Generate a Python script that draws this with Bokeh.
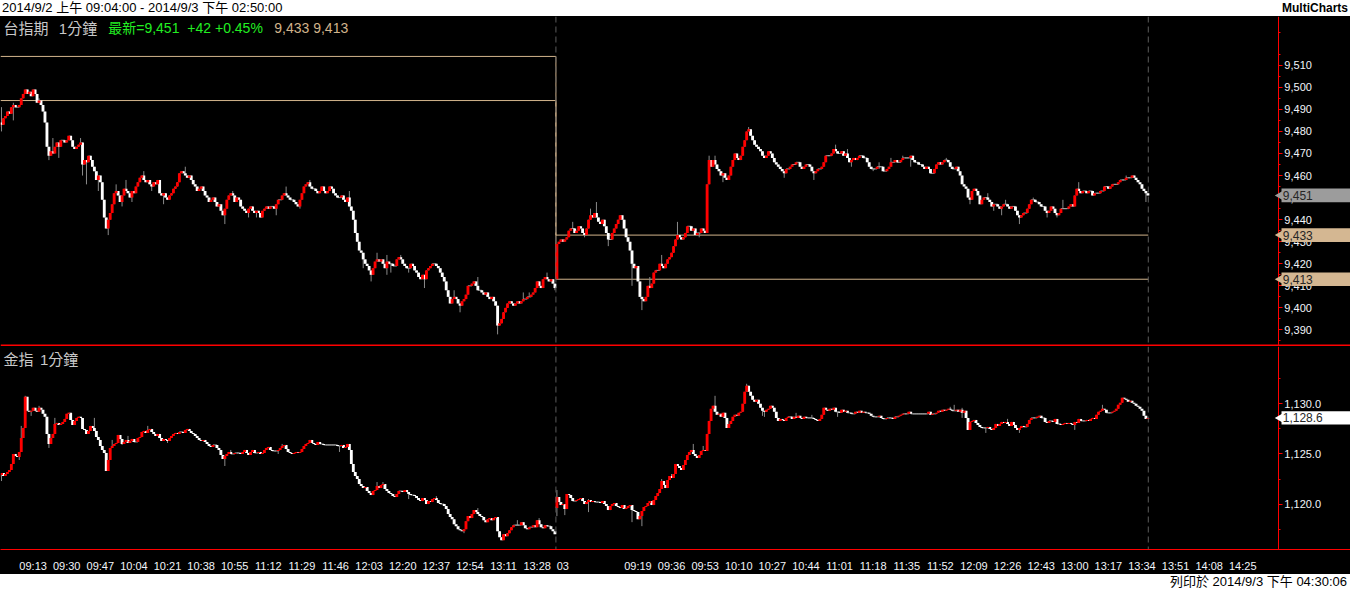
import math
from bokeh.plotting import figure
from bokeh.models import Range1d, FixedTicker, NumeralTickFormatter, Label, Span, Div, ColumnDataSource
from bokeh.layouts import column
from bokeh.embed import file_html
from bokeh.resources import INLINE
from bokeh.core.properties import value

# ---------------- data (1-minute closes) ----------------
# 台指期, 2014/9/2 09:04-13:45 and 2014/9/3 08:46-13:45
fut_day1 = [
    9484, 9483, 9486, 9487, 9489, 9488, 9491, 9492, 9491, 9491,
    9492, 9495, 9497, 9499, 9497, 9498, 9496, 9499, 9497, 9493,
    9494, 9492, 9489, 9484, 9473, 9469, 9471, 9470, 9473, 9475,
    9473, 9476, 9476, 9475, 9476, 9478, 9476, 9473, 9472, 9473,
    9474, 9475, 9465, 9467, 9466, 9469, 9467, 9464, 9462, 9458,
    9460, 9457, 9449, 9441, 9436, 9440, 9443, 9447, 9452, 9453,
    9451, 9448, 9451, 9454, 9453, 9452, 9450, 9453, 9452, 9455,
    9457, 9459, 9460, 9458, 9457, 9458, 9456, 9455, 9457, 9456,
    9458, 9452, 9451, 9452, 9450, 9449, 9451, 9452, 9454, 9455,
    9457, 9461, 9462, 9461, 9460, 9459, 9460, 9458, 9456, 9455,
    9453, 9454, 9455, 9453, 9451, 9450, 9448, 9449, 9450, 9448,
    9446, 9447, 9444, 9442, 9445, 9449, 9451, 9452, 9451, 9448,
    9450, 9449, 9446, 9445, 9444, 9443, 9445, 9446, 9444, 9443,
    9444, 9443, 9441, 9444, 9445, 9446, 9445, 9446, 9446, 9445,
    9447, 9449, 9449, 9451, 9452, 9451, 9450, 9449, 9449, 9448,
    9447, 9446, 9449, 9452, 9455, 9456, 9457, 9455, 9454, 9454,
    9453, 9452, 9453, 9455, 9453, 9452, 9453, 9455, 9454, 9452,
    9451, 9450, 9450, 9451, 9449, 9448, 9450, 9446, 9444, 9440,
    9434, 9430, 9426, 9425, 9422, 9420, 9419, 9417, 9415, 9418,
    9421, 9422, 9421, 9422, 9420, 9418, 9421, 9420, 9420, 9419,
    9419, 9422, 9423, 9422, 9420, 9419, 9418, 9418, 9420, 9419,
    9417, 9416, 9414, 9413, 9415, 9413, 9417, 9418, 9419, 9420,
    9420, 9419, 9418, 9416, 9414, 9412, 9408, 9405, 9402, 9404,
    9405, 9404, 9402, 9401, 9403, 9404, 9406, 9410, 9410, 9411,
    9412, 9410, 9408, 9408, 9407, 9406, 9407, 9405, 9404, 9405,
    9403, 9401, 9392, 9393, 9395, 9398, 9400, 9402, 9403, 9402,
    9401, 9402, 9403, 9402, 9403, 9404, 9404, 9405, 9405, 9406,
    9407, 9409, 9412, 9410, 9409, 9413, 9414, 9413, 9412, 9413,
    9411, 9409,
]
fut_day2 = [
    9429, 9430, 9431, 9430, 9431, 9432, 9435, 9436, 9436, 9434,
    9435, 9437, 9436, 9434, 9433, 9436, 9440, 9442, 9441, 9443,
    9441, 9439, 9438, 9440, 9437, 9434, 9431, 9431, 9434, 9436,
    9438, 9440, 9442, 9440, 9436, 9432, 9430, 9426, 9420, 9418,
    9419, 9412, 9405, 9404, 9403, 9405, 9410, 9409, 9411, 9416,
    9417, 9417, 9420, 9419, 9418, 9420, 9422, 9423, 9425, 9428,
    9431, 9433, 9432, 9431, 9432, 9434, 9437, 9437, 9435, 9436,
    9433, 9434, 9434, 9436, 9435, 9434, 9456, 9467, 9464, 9467,
    9465, 9463, 9462, 9460, 9461, 9459, 9458, 9460, 9464, 9467,
    9470, 9468, 9467, 9469, 9473, 9476, 9480, 9481, 9478, 9476,
    9474, 9473, 9472, 9471, 9469, 9468, 9469, 9471, 9470, 9468,
    9466, 9465, 9464, 9463, 9462, 9461, 9463, 9463, 9464, 9465,
    9465, 9466, 9466, 9464, 9463, 9464, 9465, 9465, 9464, 9462,
    9461, 9462, 9463, 9463, 9464, 9466, 9469, 9469, 9469, 9470,
    9472, 9471, 9470, 9470, 9471, 9469, 9470, 9468, 9466, 9467,
    9468, 9467, 9468, 9469, 9469, 9468, 9468, 9466, 9464, 9463,
    9463, 9463, 9464, 9464, 9464, 9462, 9462, 9463, 9464, 9466,
    9466, 9467, 9466, 9466, 9467, 9468, 9468, 9468, 9468, 9469,
    9467, 9466, 9466, 9465, 9465, 9464, 9463, 9464, 9463, 9461,
    9461, 9463, 9465, 9466, 9465, 9466, 9467, 9467, 9466, 9464,
    9463, 9463, 9464, 9462, 9460, 9456, 9455, 9454, 9450, 9449,
    9453, 9454, 9453, 9451, 9447, 9449, 9450, 9450, 9449, 9448,
    9446, 9447, 9447, 9446, 9445, 9446, 9447, 9447, 9446, 9445,
    9446, 9446, 9444, 9442, 9441, 9442, 9443, 9443, 9445, 9447,
    9449, 9449, 9448, 9448, 9447, 9446, 9446, 9444, 9443, 9444,
    9446, 9445, 9443, 9442, 9443, 9445, 9445, 9445, 9445, 9446,
    9447, 9446, 9451, 9454, 9453, 9452, 9453, 9453, 9452, 9453,
    9453, 9451, 9452, 9452, 9452, 9453, 9453, 9455, 9455, 9454,
    9455, 9456, 9456, 9456, 9457, 9458, 9458, 9458, 9459, 9459,
    9459, 9460, 9459, 9458, 9457, 9456, 9454, 9453, 9452, 9451,
]
fut_session_open = [9482, 9413]
# visible wicks: bar number, high, low (None = no wick on that side)
fut_wick_bar = [1, 7, 13, 20, 25, 27, 30, 41, 42, 44, 46, 50, 55, 59, 62, 64, 67, 73, 77, 83,
                94, 114, 118, 126, 130, 140, 145, 152, 157, 177, 184, 188, 191, 196, 198, 203,
                207, 215, 230, 233, 242, 252, 265, 268, 277, 281, 290, 296, 299, 302, 308, 315,
                320, 325, 329, 335, 343, 354, 359, 362, 366, 379, 397, 412, 423, 429, 431, 442,
                445, 451, 457, 461, 479, 491, 500, 503, 507, 509, 516, 523, 530, 535, 538, 546,
                570, 580]
fut_wick_hi = [9491, 9493, 9499, 9495, None, 9477, None, 9477, None, None, 9469, None, None, 9456,
               None, 9458, None, 9462, None, None, 9464, None, 9453, None, None, None, 9455, None,
               9458, 9453, None, None, 9425, 9424, None, 9424, None, None, 9408, None, 9414, None,
               9407, 9407, 9416, None, 9439, None, 9445, 9448, None, 9442, None, None, 9414, 9424,
               9439, None, 9469, 9469, None, 9482, None, None, 9474, 9472, None, None, 9466, 9468,
               9469, 9469, 9468, None, 9452, None, None, 9449, None, 9450, None, None, 9449, 9457,
               9460, None]
fut_wick_lo = [9480, 9485, None, None, 9467, None, 9468, None, 9460, 9456, None, 9453, 9433, None,
               9446, None, 9448, None, 9453, 9447, None, 9438, None, 9441, 9441, 9442, None, 9445,
               None, None, 9418, 9412, None, 9415, 9416, None, 9416, 9409, None, 9398, None, 9388,
               None, None, None, 9408, None, 9432, None, None, 9428, None, 9410, 9399, None, None,
               None, 9432, None, None, 9457, None, 9459, 9458, None, None, 9464, 9462, 9463, None,
               None, 9464, None, 9447, None, 9444, 9442, None, 9438, None, 9441, 9441, None, None,
               None, 9448]

# 金指
idx_day1 = [
    1122.9, 1123.1, 1122.8, 1123.0, 1123.2, 1123.4, 1124.0, 1125.0, 1124.8, 1124.7,
    1125.2, 1126.6, 1127.6, 1130.7, 1129.3, 1129.2, 1129.3, 1129.6, 1129.3, 1129.2,
    1129.6, 1129.4, 1129.0, 1128.7, 1127.0, 1126.0, 1126.6, 1127.0, 1128.0, 1128.1,
    1127.9, 1128.0, 1128.2, 1128.5, 1129.0, 1129.1, 1128.4, 1127.9, 1128.3, 1128.6,
    1128.7, 1128.6, 1127.5, 1127.4, 1127.0, 1127.3, 1127.8, 1127.6, 1127.3, 1126.7,
    1126.4, 1125.8, 1125.4, 1125.1, 1123.3, 1124.4, 1125.6, 1125.8, 1126.0, 1126.1,
    1126.9, 1126.5, 1126.0, 1126.2, 1126.4, 1126.1, 1126.3, 1126.5, 1126.2, 1126.2,
    1126.6, 1126.7, 1127.2, 1127.3, 1127.1, 1127.4, 1127.5, 1127.2, 1127.0, 1126.8,
    1127.0, 1126.6, 1126.3, 1126.5, 1126.4, 1126.3, 1126.6, 1126.8, 1127.0, 1127.1,
    1127.0, 1127.2, 1127.2, 1127.1, 1127.4, 1127.5, 1127.3, 1127.1, 1127.0, 1126.8,
    1126.6, 1126.4, 1126.3, 1126.4, 1126.2, 1126.0, 1125.8, 1125.7, 1125.9, 1125.9,
    1125.6, 1125.4, 1124.9, 1124.5, 1124.8, 1125.0, 1125.2, 1125.0, 1125.0, 1125.1,
    1125.1, 1125.1, 1125.0, 1125.2, 1125.4, 1125.1, 1124.9, 1125.2, 1125.4, 1125.1,
    1125.1, 1125.2, 1125.0, 1125.1, 1125.4, 1125.6, 1125.7, 1125.4, 1125.3, 1125.3,
    1125.3, 1125.4, 1125.6, 1125.8, 1125.9, 1125.5, 1125.2, 1125.1, 1125.0, 1125.1,
    1125.2, 1125.1, 1125.2, 1125.5, 1125.8, 1126.0, 1126.1, 1126.4, 1126.1, 1126.0,
    1125.9, 1126.2, 1126.0, 1126.0, 1125.9, 1125.9, 1125.9, 1125.9, 1125.9, 1125.9,
    1125.9, 1125.8, 1125.8, 1125.9, 1125.6, 1125.7, 1126.0, 1125.4, 1124.0, 1123.2,
    1122.8, 1122.5, 1122.0, 1121.8, 1121.6, 1121.7, 1121.3, 1121.1, 1120.9, 1121.3,
    1121.4, 1121.8, 1121.6, 1121.9, 1122.0, 1121.5, 1121.3, 1121.1, 1121.0, 1120.8,
    1120.7, 1121.0, 1121.3, 1121.3, 1121.2, 1121.4, 1121.2, 1121.0, 1120.9, 1120.9,
    1120.8, 1120.6, 1120.4, 1120.3, 1120.6, 1120.4, 1120.0, 1120.3, 1120.2, 1120.5,
    1120.6, 1120.4, 1120.1, 1120.0, 1120.0, 1119.8, 1119.5, 1119.0, 1118.7, 1118.5,
    1118.0, 1117.8, 1117.5, 1117.4, 1117.3, 1117.5, 1118.3, 1118.8, 1118.6, 1119.0,
    1119.4, 1119.2, 1119.0, 1118.8, 1118.7, 1118.4, 1118.2, 1118.5, 1118.6, 1118.4,
    1118.6, 1118.7, 1117.3, 1116.7, 1116.4, 1117.0, 1116.8, 1117.1, 1117.4, 1117.7,
    1117.9, 1117.9, 1117.9, 1117.9, 1118.2, 1117.9, 1117.6, 1117.5, 1117.7, 1117.7,
    1117.9, 1117.7, 1118.4, 1118.0, 1117.7, 1117.6, 1117.9, 1117.8, 1117.8, 1117.5,
    1117.3, 1117.0,
]
idx_day2 = [
    1120.7, 1120.2, 1119.9, 1120.0, 1119.5, 1121.0, 1120.9, 1120.6, 1120.3, 1120.3,
    1120.4, 1120.5, 1120.6, 1120.3, 1120.0, 1120.2, 1120.4, 1120.2, 1120.3, 1120.2,
    1120.2, 1120.2, 1120.1, 1120.3, 1120.0, 1119.8, 1119.4, 1119.8, 1120.0, 1120.1,
    1119.8, 1119.7, 1119.6, 1119.9, 1119.5, 1119.6, 1119.8, 1119.9, 1119.4, 1119.3,
    1119.2, 1118.5, 1118.8, 1119.3, 1119.7, 1119.8, 1120.1, 1120.3, 1119.9, 1120.4,
    1120.8, 1121.1, 1121.5, 1122.3, 1121.9, 1121.6, 1122.4, 1122.8, 1122.6, 1123.0,
    1124.0, 1123.8, 1123.6, 1123.4, 1123.9, 1124.4, 1124.9, 1125.2, 1125.4, 1125.0,
    1124.8, 1124.6, 1124.9, 1125.3, 1125.4, 1125.3, 1127.0, 1128.3, 1129.5, 1129.8,
    1129.2, 1128.9, 1129.0, 1128.7, 1129.1, 1128.6, 1127.6, 1128.0, 1128.3, 1128.7,
    1128.9, 1128.8, 1129.1, 1129.2, 1130.0, 1131.2, 1131.8, 1131.2, 1130.8, 1130.4,
    1130.2, 1130.4, 1130.0, 1129.6, 1129.3, 1129.2, 1129.4, 1129.5, 1129.8, 1129.6,
    1129.2, 1128.6, 1128.3, 1128.5, 1128.4, 1128.3, 1128.6, 1128.7, 1128.7, 1128.5,
    1128.7, 1128.6, 1128.8, 1128.6, 1128.5, 1128.7, 1128.6, 1128.6, 1128.6, 1128.6,
    1128.5, 1128.4, 1128.3, 1128.5, 1128.9, 1129.6, 1129.4, 1129.3, 1129.5, 1129.4,
    1129.6, 1129.2, 1129.2, 1129.1, 1129.4, 1129.2, 1129.3, 1129.1, 1129.1, 1129.0,
    1129.0, 1129.2, 1129.1, 1129.3, 1129.1, 1129.2, 1129.1, 1129.1, 1129.0, 1128.8,
    1128.7, 1128.7, 1128.7, 1128.8, 1128.6, 1128.5, 1128.5, 1128.6, 1128.6, 1128.6,
    1128.5, 1128.7, 1128.7, 1128.8, 1128.9, 1129.0, 1129.0, 1129.0, 1129.2, 1129.0,
    1129.0, 1129.0, 1129.0, 1129.0, 1129.0, 1129.0, 1129.0, 1129.0, 1129.2, 1128.9,
    1129.0, 1129.0, 1129.1, 1129.3, 1129.2, 1129.4, 1129.3, 1129.4, 1129.5, 1129.4,
    1129.3, 1129.3, 1129.4, 1129.2, 1129.4, 1129.1, 1129.3, 1128.6, 1127.4, 1128.2,
    1128.3, 1128.4, 1128.1, 1127.9, 1127.7, 1127.6, 1127.6, 1127.6, 1127.7, 1127.5,
    1127.4, 1127.6, 1128.0, 1127.8, 1128.0, 1128.2, 1128.1, 1128.2, 1128.0, 1127.8,
    1128.2, 1127.9, 1127.6, 1127.4, 1127.6, 1127.8, 1127.7, 1127.7, 1128.0, 1128.4,
    1128.6, 1128.6, 1128.6, 1128.7, 1128.8, 1128.6, 1128.6, 1128.2, 1128.1, 1128.3,
    1128.3, 1128.2, 1128.5, 1128.0, 1128.0, 1127.9, 1128.0, 1128.1, 1128.0, 1128.1,
    1128.0, 1127.9, 1128.2, 1128.1, 1128.5, 1128.3, 1128.3, 1128.3, 1128.4, 1128.3,
    1128.5, 1128.6, 1128.5, 1128.9, 1129.2, 1129.3, 1129.5, 1129.4, 1129.1, 1129.1,
    1129.1, 1129.2, 1129.3, 1129.5, 1129.9, 1130.1, 1130.6, 1130.5, 1130.4, 1130.2,
    1130.3, 1130.1, 1130.0, 1129.8, 1129.7, 1129.5, 1129.3, 1128.8, 1128.5, 1128.6,
]
idx_session_open = [1122.7, 1119.6]
idx_wick_bar = [1, 10, 11, 13, 16, 20, 25, 28, 48, 57, 62, 65, 75, 85, 114, 117, 141, 143, 172,
                191, 194, 207, 221, 235, 240, 242, 262, 273, 282, 286, 298, 320, 325, 335, 340,
                351, 356, 362, 378, 386, 387, 403, 411, 424, 481, 483, 487, 499, 510, 516, 544, 558]
idx_wick_hi = [None, None, 1127.8, 1130.8, None, 1129.8, None, 1128.6, 1128.6, 1126.4, None, 1126.8,
               1127.8, None, None, 1125.4, None, 1126.0, None, 1122.2, 1122.2, None, 1120.8, None,
               1119.4, 1119.6, 1118.4, 1118.6, 1121.4, None, 1120.5, None, None, 1122.5, 1123.0,
               1126.0, 1125.8, 1130.8, 1132.0, None, None, 1129.1, 1128.9, None, 1129.7, 1129.9,
               1129.6, None, 1128.5, None, None, 1129.9]
idx_wick_lo = [1122.3, 1124.4, None, None, 1128.8, None, 1125.6, None, None, None, 1125.9, None,
               None, 1126.1, 1123.8, None, 1125.0, None, 1125.2, None, None, 1120.5, None, 1117.1,
               None, None, None, None, 1118.8, 1118.9, 1119.2, 1118.2, 1117.8, None, None,
               None, None, None, None, 1128.8, 1128.7, None, None, 1128.7, None, None,
               1128.6, 1127.1, None, 1127.1, 1127.4, None]

# reference levels (per session) drawn as step lines
level_hi = [9514, 9413]
level_lo = [9494, 9433]

# axis ticks / labels
fut_ticks = [9390, 9400, 9410, 9420, 9430, 9440, 9450, 9460, 9470, 9480, 9490, 9500, 9510]
fut_minor = [9385, 9395, 9405, 9415, 9425, 9435, 9445, 9455, 9465, 9475, 9485, 9495, 9505, 9515, 9525]
idx_ticks = [1120.0, 1125.0, 1130.0]
idx_minor = [1117.5, 1122.5, 1127.5, 1132.5]
time_labels = ["09:13", "09:30", "09:47", "10:04", "10:21", "10:38", "10:55", "11:12", "11:29",
               "11:46", "12:03", "12:20", "12:37", "12:54", "13:11", "13:28", "03", "",
               "09:19", "09:36", "09:53", "10:10", "10:27", "10:44", "11:01", "11:18", "11:35",
               "11:52", "12:09", "12:26", "12:43", "13:00", "13:17", "13:34", "13:51", "14:08", "14:25"]
TICK_EVERY = 17
FIRST_TICK_BAR = 9

# ---------------- layout constants ----------------
W = 1350
FONT = "Liberation Sans, Noto Sans CJK TC"
AX_TXT = "#f2f5fa"
N1 = len(fut_day1)
N = N1 + len(fut_day2)
AXIS_AT = 647          # bar-slot where the price scale sits
xr = Range1d(0.5, 683.5)
TOP_LO, TOP_HI = 9382.5, 9532.1
BOT_LO, BOT_HI = 1115.47, 1135.72


def build(day1, day2, opens, wb, wh, wl):
    close = day1 + day2
    op = [opens[0]] + day1[:-1] + [opens[1]] + day2[:-1]
    hi = [max(a, b) for a, b in zip(op, close)]
    lo = [min(a, b) for a, b in zip(op, close)]
    for b, h, l in zip(wb, wh, wl):
        if h is not None:
            hi[b] = max(hi[b], h)
        if l is not None:
            lo[b] = min(lo[b], l)
    return list(range(len(close))), op, close, hi, lo


def draw_candles(p, x, o, c, h, l):
    p.segment(x0=x, y0=l, x1=x, y1=h, line_color="#8a8a8a", line_width=1)
    up = dict(x=[], top=[], bottom=[])
    dn = dict(x=[], top=[], bottom=[])
    fl = dict(x=[], y=[])
    for xi, oi, ci in zip(x, o, c):
        if abs(ci - oi) < 1e-6:
            fl["x"].append(xi); fl["y"].append(ci)
        elif ci > oi:
            up["x"].append(xi); up["top"].append(ci); up["bottom"].append(oi)
        else:
            dn["x"].append(xi); dn["top"].append(oi); dn["bottom"].append(ci)
    p.scatter(x="x", y="y", source=ColumnDataSource(fl), marker="dash", size=4,
              line_color="#a0a0a0", line_width=1)
    p.vbar(x="x", width=1.45, top="top", bottom="bottom", source=ColumnDataSource(dn),
           fill_color="#ffffff", line_color=None)
    p.vbar(x="x", width=1.45, top="top", bottom="bottom", source=ColumnDataSource(up),
           fill_color="#ff0000", line_color=None)


def style_yaxis(p, ticks, minor, fmt):
    ax = p.yaxis[0]
    ax.fixed_location = AXIS_AT
    ax.ticker = FixedTicker(ticks=ticks, minor_ticks=minor)
    ax.formatter = NumeralTickFormatter(format=fmt)
    ax.axis_line_color = "#ff0000"
    ax.major_tick_line_color = "#ff0000"
    ax.minor_tick_line_color = "#ff0000"
    ax.major_tick_in = 0
    ax.major_tick_out = 4
    ax.minor_tick_in = 0
    ax.minor_tick_out = 2
    ax.major_label_standoff = 2
    ax.major_label_text_color = AX_TXT
    ax.major_label_text_font = FONT
    ax.major_label_text_font_size = "11px"


def price_marker(p, y, half_h, txt, bg):
    rs = [
        p.quad(left=[AXIS_AT + 1.6], right=[683.5], top=[y + half_h], bottom=[y - half_h],
               fill_color=bg, line_color=None),
        p.scatter(x=[AXIS_AT + 1.4], y=[y], marker="triangle", angle=math.pi / 2, size=11,
                  fill_color=bg, line_color=None),
        p.text(x=[AXIS_AT + 2.2], y=[y], text=[txt], text_baseline="middle", text_align="left",
               text_color="#262626", text_font=value(FONT), text_font_size="12px"),
    ]
    for r in rs:
        r.level = "overlay"


common = dict(width=W, x_range=xr, y_axis_location="right", output_backend="svg",
              toolbar_location=None, background_fill_color="black", border_fill_color="black",
              min_border_left=0, min_border_right=0, min_border_top=0,
              outline_line_color=None)

# ---------------- top panel ----------------
top = figure(height=330, y_range=Range1d(TOP_LO, TOP_HI), x_axis_type=None,
             min_border_bottom=0, **common)
top.grid.visible = False
style_yaxis(top, fut_ticks, fut_minor, "0,0")

sep_x = N1 - 0.5
end_x = N - 1 + 0.2
for loc in (sep_x, end_x):
    top.add_layout(Span(location=loc, dimension="height", line_color="#5c5c5c",
                        line_dash="6 4", line_width=1))
# panel separator (red)
top.add_layout(Span(location=TOP_LO + 0.45, dimension="width", line_color="#ff0000", line_width=2))

for lv in (level_hi, level_lo):
    top.line(x=[0.5, sep_x, sep_x, end_x], y=[lv[0], lv[0], lv[1], lv[1]],
             line_color="#d2b48c", line_width=1)

fx, fo, fc, fh, fl_ = build(fut_day1, fut_day2, fut_session_open, fut_wick_bar, fut_wick_hi, fut_wick_lo)
draw_candles(top, fx, fo, fc, fh, fl_)

last_f = fc[-1]
chg = last_f - fut_day1[-1]
title_y = 9526.8
for gx, txt, col, fs in [(2, "台指期", "#c8c8c8", "15px"), (30, "1分鐘", "#c8c8c8", "15px"),
                         (55, "最新=%s" % format(last_f, ","), "#22ee22", "14px"),
                         (95, "%+d" % chg, "#22ee22", "14px"),
                         (109, "%+.2f%%" % (chg / fut_day1[-1] * 100), "#22ee22", "14px"),
                         (139, "%s %s" % (format(level_lo[1], ","), format(level_hi[1], ",")),
                          "#d2b48c", "14px")]:
    top.add_layout(Label(x=gx, y=title_y, text=txt, text_color=col, text_baseline="middle",
                         text_font=FONT, text_font_size=fs))

price_marker(top, last_f, 3.1, format(last_f, ","), "#9c9c9c")
price_marker(top, level_lo[1], 3.1, format(level_lo[1], ","), "#d4b792")
price_marker(top, level_hi[1], 3.1, format(level_hi[1], ","), "#d4b792")

# ---------------- bottom panel ----------------
bot = figure(height=228, y_range=Range1d(BOT_LO, BOT_HI), min_border_bottom=18, **common)
bot.grid.visible = False
style_yaxis(bot, idx_ticks, idx_minor, "0,0.0")
for loc in (sep_x, end_x):
    bot.add_layout(Span(location=loc, dimension="height", line_color="#5c5c5c",
                        line_dash="6 4", line_width=1))

ix, io, ic, ih, il = build(idx_day1, idx_day2, idx_session_open, idx_wick_bar, idx_wick_hi, idx_wick_lo)
draw_candles(bot, ix, io, ic, ih, il)

for gx, txt in [(2, "金指"), (20.5, "1分鐘")]:
    bot.add_layout(Label(x=gx, y=1134.4, text=txt, text_color="#c8c8c8", text_baseline="middle",
                         text_font=FONT, text_font_size="15px"))
price_marker(bot, ic[-1], 0.66, format(ic[-1], ",.1f"), "#ffffff")

tick_pos = []
overrides = {}
for k, lab in enumerate(time_labels):
    g = FIRST_TICK_BAR + TICK_EVERY * k
    pos = g + (4 if len(lab) == 2 else 8)
    tick_pos.append(pos)
    overrides[pos] = lab
xa = bot.xaxis[0]
xa.ticker = FixedTicker(ticks=tick_pos, minor_ticks=[])
xa.major_label_overrides = overrides
xa.axis_line_color = "#ff0000"
xa.major_tick_line_color = None
xa.minor_tick_line_color = None
xa.major_label_standoff = 4
xa.major_label_text_color = AX_TXT
xa.major_label_text_font = FONT
xa.major_label_text_font_size = "11px"

# ---------------- header / footer ----------------
header = Div(text=('<div style="width:1350px;height:16px;display:flex;justify-content:space-between;'
                   'align-items:center;font-family:Liberation Sans, Noto Sans CJK TC;color:#000;">'
                   '<span style="font-size:13px;padding-left:2px;">2014/9/2 上午 09:04:00 - 2014/9/3 下午 02:50:00</span>'
                   '<span style="font-size:12px;font-weight:bold;padding-right:2px;">MultiCharts</span></div>'),
             width=W, height=16, margin=(0, 0, 0, 0), styles={"background-color": "#ffffff"})
footer = Div(text=('<div style="width:1350px;height:14px;text-align:right;line-height:14px;'
                   'font-family:Liberation Sans, Noto Sans CJK TC;font-size:13px;color:#000;">'
                   '<span style="padding-right:3px;">列印於 2014/9/3 下午 04:30:06</span></div>'),
             width=W, height=14, margin=(0, 0, 0, 0), styles={"background-color": "#ffffff"})

layout = column(header, top, bot, footer, spacing=0, styles={"background-color": "#000000"})
open("out.html", "w").write(file_html(layout, INLINE, title="台指期 1分鐘"))
